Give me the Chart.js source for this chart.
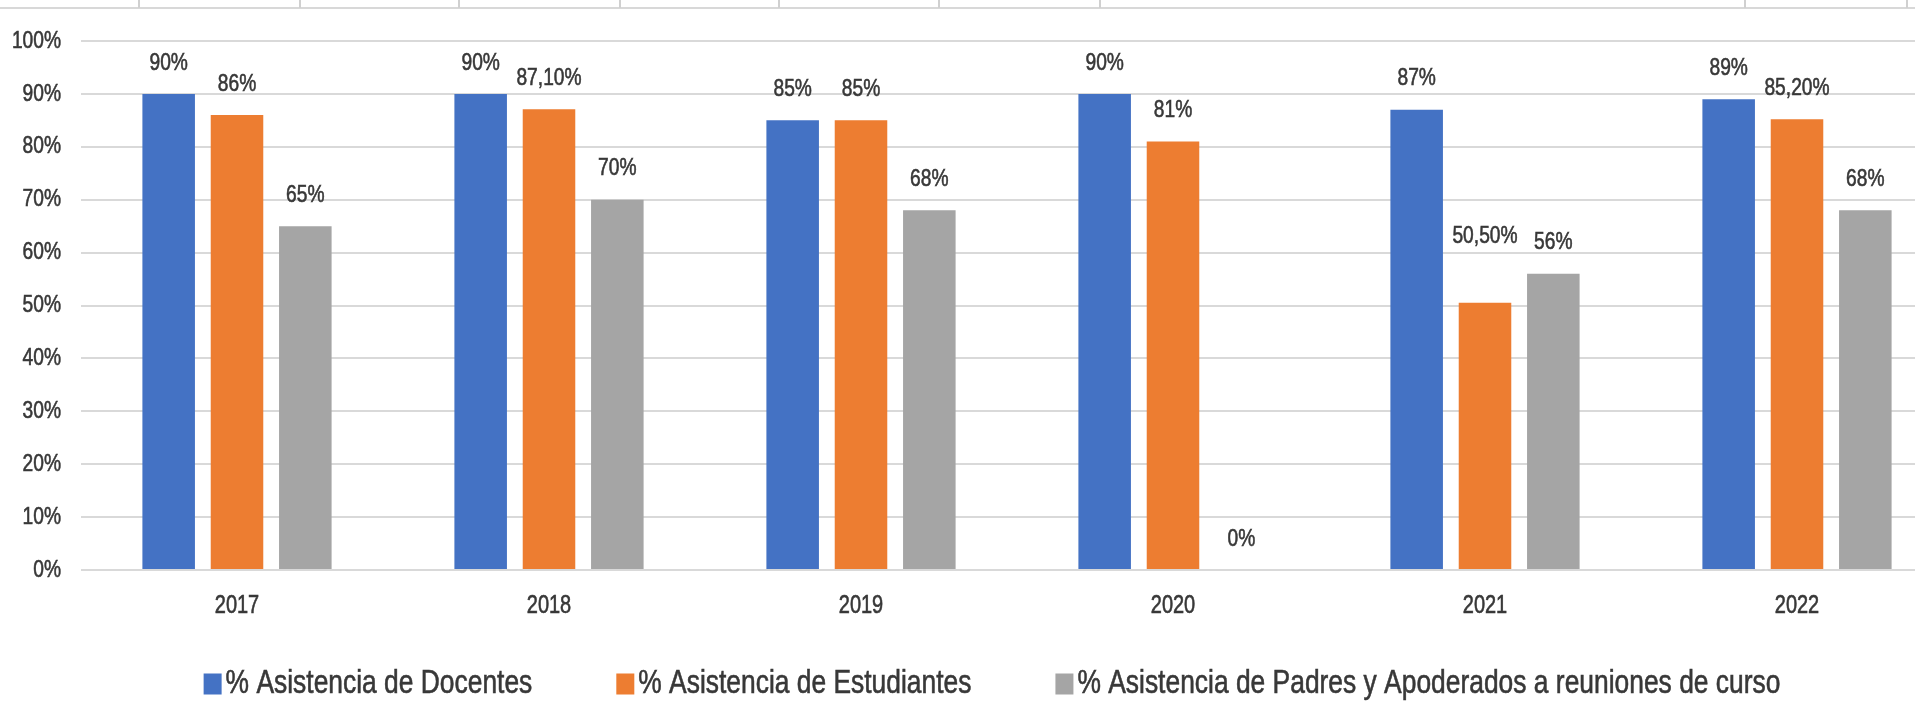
<!DOCTYPE html>
<html>
<head>
<meta charset="utf-8">
<script src="https://cdn.jsdelivr.net/npm/chart.js@4/dist/chart.umd.min.js"></script>
<style>
html,body{margin:0;padding:0;background:#fff;overflow:hidden;width:1915px;height:705px;}
#wrap{position:relative;width:2030px;height:705px;}
#c{position:absolute;left:0;top:0;}
#sheet{position:absolute;left:0;top:0;width:1915px;height:7px;border-bottom:2px solid #d8d8d8;}
.vl{position:absolute;top:0;width:2px;height:8px;background:#d0d0d0;}
</style>
</head>
<body>
<div id="wrap">
  <canvas id="c" width="2030" height="705"></canvas>
  <div id="sheet"></div>
</div>
<script>
// ---- data ----
const categories = ['2017', '2018', '2019', '2020', '2021', '2022'];
const seriesNames = [
  '% Asistencia de Docentes',
  '% Asistencia de Estudiantes',
  '% Asistencia de Padres y Apoderados a reuniones de curso'
];
const docentes    = [90, 90, 85, 90, 87, 89];
const estudiantes = [86, 87.1, 85, 81, 50.5, 85.2];
const padres      = [65, 70, 68, 0, 56, 68];
const yTicks = [0, 10, 20, 30, 40, 50, 60, 70, 80, 90, 100];

// ---- styles ----
const colors = ['#4472C4', '#ED7D31', '#A5A5A5'];
const FONT = '"Liberation Sans", Arial, sans-serif';
const TEXT = '#383838';
const SX = 0.8;   // horizontal compression of the narrow chart font

// spreadsheet cell borders at the top of the picture (decoration)
const sheetMarks = [138, 299, 458, 619, 778, 938, 1099, 1744, 1906];
const sheet = document.getElementById('sheet');
sheetMarks.forEach(x => { const d = document.createElement('div'); d.className = 'vl'; d.style.left = x + 'px'; sheet.appendChild(d); });

function fmt(v) {
  return Number.isInteger(v) ? v + '%' : v.toFixed(2).replace('.', ',') + '%';
}
function drawText(ctx, text, x, y, size, align) {
  ctx.save();
  ctx.font = size + 'px ' + FONT;
  ctx.fillStyle = TEXT;
  ctx.strokeStyle = TEXT;
  ctx.lineWidth = 0.6;
  ctx.textBaseline = 'middle';
  ctx.textAlign = align;
  ctx.translate(x, y);
  ctx.scale(SX, 1);
  ctx.fillText(text, 0, 0);
  ctx.strokeText(text, 0, 0);
  ctx.restore();
}
function textW(ctx, text, size) {
  ctx.save(); ctx.font = size + 'px ' + FONT;
  const w = ctx.measureText(text).width * SX;
  ctx.restore(); return w;
}

const narrowText = {
  id: 'narrowText',
  afterDraw(chart, args, o) {
    const ctx = chart.ctx, ca = chart.chartArea;
    const xs = chart.scales.x, ys = chart.scales.y;
    // y tick labels
    ys.ticks.forEach(t => drawText(ctx, t.value + '%', ca.left - o.yPad, ys.getPixelForValue(t.value), o.tickSize, 'right'));
    // x category labels
    chart.data.labels.forEach((l, i) => drawText(ctx, l, xs.getPixelForValue(i), ca.bottom + o.xPad, o.xSize, 'center'));
    // value labels
    chart.data.datasets.forEach((ds, di) => {
      chart.getDatasetMeta(di).data.forEach((el, i) => {
        const extra = o.lift[di + ':' + i] || 0;
        drawText(ctx, fmt(ds.data[i]), el.x, el.y - o.valOffset - extra, o.valSize, 'center');
      });
    });
    // legend
    const items = chart.data.datasets.map(ds => ({ label: ds.label, color: ds.backgroundColor, w: textW(ctx, ds.label, o.legSize) }));
    const total = items.reduce((s, it) => s + o.boxW + o.boxGap + it.w, 0) + o.itemGap * (items.length - 1);
    let x = o.legCenter - total / 2;
    items.forEach(it => {
      ctx.fillStyle = it.color;
      ctx.fillRect(x, o.legY - o.boxH / 2, o.boxW, o.boxH);
      drawText(ctx, it.label, x + o.boxW + o.boxGap, o.legY, o.legSize, 'left');
      x += o.boxW + o.boxGap + it.w + o.itemGap;
    });
  }
};

const chart = new Chart(document.getElementById('c'), {
  type: 'bar',
  data: {
    labels: categories,
    datasets: [
      { label: seriesNames[0], data: docentes, backgroundColor: colors[0] },
      { label: seriesNames[1], data: estudiantes, backgroundColor: colors[1] },
      { label: seriesNames[2], data: padres, backgroundColor: colors[2] }
    ]
  },
  options: {
    responsive: false,
    animation: false,
    devicePixelRatio: 1,
    categoryPercentage: 0.657,
    barPercentage: 0.769,
    layout: { padding: { top: 41, right: 77, left: 0, bottom: 0 } },
    plugins: {
      legend: { display: false },
      tooltip: { enabled: false },
      narrowText: {
        tickSize: 24, yPad: 20, xSize: 25, xPad: 36,
        valSize: 24, valOffset: 31, lift: { '1:4': 35 },
        legSize: 33, legY: 684, legCenter: 992, boxW: 18, boxH: 21, boxGap: 4, itemGap: 84
      }
    },
    scales: {
      x: {
        grid: { display: false, drawTicks: false },
        border: { display: false },
        ticks: { display: false },
        afterFit(s) { s.height = 135; }
      },
      y: {
        min: 0, max: 100,
        afterBuildTicks(s) { s.ticks = yTicks.map(v => ({ value: v })); },
        grid: { color: '#D9D9D9', lineWidth: 2, drawTicks: false },
        border: { display: false },
        ticks: { display: false },
        afterFit(s) { s.width = 81; }
      }
    }
  },
  plugins: [narrowText]
});
</script>
</body>
</html>
